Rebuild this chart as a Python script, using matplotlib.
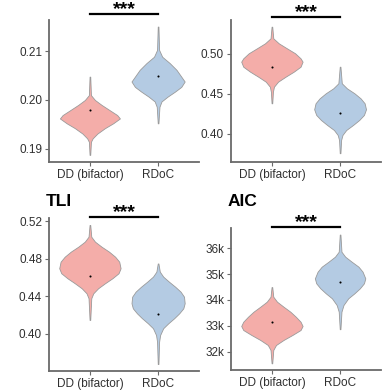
import matplotlib
matplotlib.use('Agg')
import matplotlib.pyplot as plt

plt.rcParams['font.family'] = ['Liberation Sans', 'DejaVu Sans']

groups = ['DD (bifactor)', 'RDoC']
fill_colors = ['#F4ADA9', '#B4CBE3']

# ---- Panel 1 (top-left) ----
p1_dd_y = [0.2048, 0.2010, 0.2000, 0.1990, 0.1979, 0.1969, 0.1962, 0.1952, 0.1942, 0.1931, 0.1921, 0.1914, 0.1887]
p1_dd_w = [0.005, 0.015, 0.074, 0.17, 0.29, 0.40, 0.44, 0.34, 0.22, 0.11, 0.04, 0.015, 0.005]
p1_rd_y = [0.2151, 0.2103, 0.2089, 0.2076, 0.2062, 0.2048, 0.2038, 0.2027, 0.2017, 0.2007, 0.1997, 0.1986, 0.1952]
p1_rd_w = [0.005, 0.015, 0.06, 0.17, 0.27, 0.34, 0.39, 0.34, 0.245, 0.14, 0.05, 0.02, 0.005]
p1_means = [0.1979, 0.2049]
p1_ticks = [0.19, 0.20, 0.21]
p1_ticklabels = ['0.19', '0.20', '0.21']

# ---- Panel 2 (top-right) ----
p2_dd_y = [0.5341, 0.5196, 0.5134, 0.5071, 0.5009, 0.4946, 0.4904, 0.4841, 0.4779, 0.4716, 0.4654, 0.4591, 0.4529, 0.4384]
p2_dd_w = [0.005, 0.02, 0.10, 0.22, 0.34, 0.42, 0.45, 0.42, 0.32, 0.20, 0.09, 0.03, 0.015, 0.005]
p2_rd_y = [0.4841, 0.4634, 0.4571, 0.4509, 0.4446, 0.4384, 0.4309, 0.4238, 0.4175, 0.4113, 0.4050, 0.3988, 0.3925, 0.3760]
p2_rd_w = [0.005, 0.025, 0.10, 0.21, 0.30, 0.36, 0.38, 0.35, 0.28, 0.19, 0.09, 0.035, 0.015, 0.005]
p2_means = [0.4838, 0.4259]
p2_ticks = [0.40, 0.45, 0.50]
p2_ticklabels = ['0.40', '0.45', '0.50']

# ---- Panel 3 (TLI) ----
p3_dd_y = [0.5160, 0.5035, 0.4982, 0.4929, 0.4876, 0.4822, 0.4769, 0.4699, 0.4646, 0.4593, 0.4539, 0.4486, 0.4433, 0.4380, 0.4149]
p3_dd_w = [0.005, 0.02, 0.075, 0.17, 0.28, 0.37, 0.43, 0.45, 0.42, 0.33, 0.22, 0.12, 0.05, 0.02, 0.005]
p3_rd_y = [0.4750, 0.4663, 0.4610, 0.4556, 0.4503, 0.4450, 0.4397, 0.4327, 0.4273, 0.4220, 0.4167, 0.4114, 0.4061, 0.3989, 0.3918, 0.3680]
p3_rd_w = [0.005, 0.025, 0.075, 0.16, 0.25, 0.33, 0.38, 0.39, 0.37, 0.31, 0.235, 0.15, 0.075, 0.03, 0.015, 0.005]
p3_means = [0.4617, 0.4210]
p3_ticks = [0.40, 0.44, 0.48, 0.52]
p3_ticklabels = ['0.40', '0.44', '0.48', '0.52']

# ---- Panel 4 (AIC) ----
p4_dd_y = [34500, 34127, 33934, 33741, 33547, 33354, 33160, 32994, 32839, 32646, 32453, 32259, 32066, 31551]
p4_dd_w = [0.005, 0.02, 0.075, 0.17, 0.27, 0.35, 0.42, 0.45, 0.42, 0.30, 0.17, 0.06, 0.02, 0.005]
p4_rd_y = [36530, 35868, 35675, 35481, 35288, 35094, 34836, 34646, 34452, 34259, 34066, 33806, 33547, 32870]
p4_rd_w = [0.005, 0.02, 0.075, 0.17, 0.27, 0.33, 0.37, 0.35, 0.29, 0.21, 0.12, 0.05, 0.02, 0.005]
p4_means = [33140, 34708]
p4_ticks = [32000, 33000, 34000, 35000, 36000]
p4_ticklabels = ['32k', '33k', '34k', '35k', '36k']

panels = [
    dict(rect=[49, 20, 150, 142], title=None, ylim=(0.18724, 0.21646), bar=1.040,
         v=[(p1_dd_y, p1_dd_w), (p1_rd_y, p1_rd_w)], means=p1_means,
         ticks=p1_ticks, labels=p1_ticklabels),
    dict(rect=[231, 20, 150, 142], title=None, ylim=(0.365, 0.5425), bar=1.021,
         v=[(p2_dd_y, p2_dd_w), (p2_rd_y, p2_rd_w)], means=p2_means,
         ticks=p2_ticks, labels=p2_ticklabels),
    dict(rect=[49, 218, 150, 153], title='TLI', ylim=(0.3606, 0.5234), bar=1.0065,
         v=[(p3_dd_y, p3_dd_w), (p3_rd_y, p3_rd_w)], means=p3_means,
         ticks=p3_ticks, labels=p3_ticklabels),
    dict(rect=[231, 228, 150, 142], title='AIC', ylim=(31292, 36785), bar=1.007,
         v=[(p4_dd_y, p4_dd_w), (p4_rd_y, p4_rd_w)], means=p4_means,
         ticks=p4_ticks, labels=p4_ticklabels),
]

W, H = 382, 391
fig = plt.figure(figsize=(W / 100, H / 100), dpi=100)
axis_col = '#6a6a6a'
text_col = '#303030'

for p in panels:
    x0, y0, w, h = p['rect']
    ax = fig.add_axes([x0 / W, (H - y0 - h) / H, w / W, h / H])
    for i, (vy, vw) in enumerate(p['v']):
        xc = i + 1
        left = [xc - q for q in vw]
        right = [xc + q for q in vw]
        ax.fill_betweenx(vy, left, right, facecolor=fill_colors[i],
                         edgecolor='#9a9a9a', linewidth=0.6, zorder=2)
        ax.plot([xc], [p['means'][i]], 'o', color='black', markersize=1.5,
                markeredgewidth=0, zorder=3)
    ax.set_xlim(0.4, 2.6)
    ax.set_ylim(*p['ylim'])
    ax.set_xticks([1, 2])
    ax.set_xticklabels(groups)
    ax.set_yticks(p['ticks'])
    ax.set_yticklabels(p['labels'])
    for s in ['top', 'right']:
        ax.spines[s].set_visible(False)
    for s in ['left', 'bottom']:
        ax.spines[s].set_color(axis_col)
        ax.spines[s].set_linewidth(1.3)
    ax.tick_params(axis='both', colors=axis_col, length=3, width=0.8,
                   labelsize=8.5, labelcolor=text_col, pad=2)
    ax.patch.set_alpha(0)
    # significance bar
    trans = ax.get_xaxis_transform()
    ax.plot([1, 2], [p['bar'], p['bar']], color='black', linewidth=1.6,
            transform=trans, clip_on=False)
    ax.annotate('***', xy=(1.5, p['bar']), xycoords=trans,
                xytext=(0, 0.2), textcoords='offset points',
                ha='center', va='baseline', fontsize=14, fontweight='bold',
                color='black', annotation_clip=False)
    if p['title']:
        fig.text((x0 - 3) / W, (H - 206) / H, p['title'], ha='left', va='baseline',
                 fontsize=12.5, fontweight='bold', color='black')

fig.savefig('out.png', dpi=100)
